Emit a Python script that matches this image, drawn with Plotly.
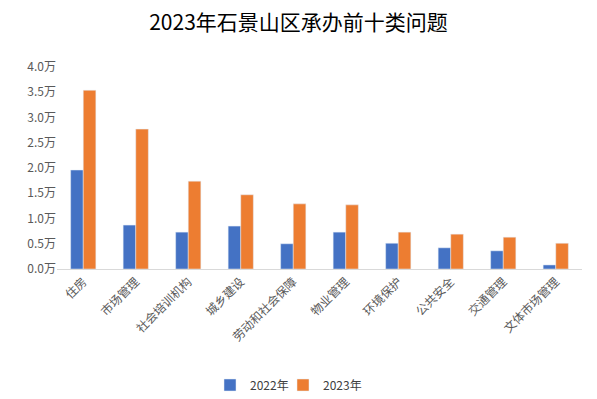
import plotly.graph_objects as go

categories = ["住房", "市场管理", "社会培训机构", "城乡建设", "劳动和社会保障",
              "物业管理", "环境保护", "公共安全", "交通管理", "文体市场管理"]
values_2022 = [1.96, 0.87, 0.73, 0.85, 0.50, 0.73, 0.51, 0.42, 0.36, 0.08]
values_2023 = [3.54, 2.77, 1.74, 1.47, 1.29, 1.27, 0.73, 0.69, 0.63, 0.51]
y_ticks = [0, 0.5, 1.0, 1.5, 2.0, 2.5, 3.0, 3.5, 4.0]
y_tick_text = [f"{v:.1f}万" for v in y_ticks]

font_family = "Noto Sans CJK SC, Liberation Sans, sans-serif"

fig = go.Figure()
fig.add_trace(go.Bar(name="2022年", x=categories, y=values_2022, marker_color="#4472C4",
                     legend="legend"))
fig.add_trace(go.Bar(name="2023年", x=categories, y=values_2023, marker_color="#ED7D31",
                     legend="legend2"))

W, H = 597, 399
leg_y = 1 - 385 / H
leg_common = dict(orientation="h", yref="container", xref="container", y=leg_y,
                  yanchor="middle", xanchor="left", bgcolor="rgba(0,0,0,0)",
                  font=dict(size=12, color="#404040"), itemwidth=30)

fig.update_layout(
    width=W, height=H,
    margin=dict(l=57, r=15, t=67, b=130),
    paper_bgcolor="white", plot_bgcolor="white",
    barmode="group", bargap=0.52, bargroupgap=0,
    title=dict(text="2023年石景山区承办前十类问题", x=0.5, xanchor="center",
               yref="container", y=1 - 15 / H, yanchor="top",
               font=dict(family=font_family, size=21, color="#000000")),
    font=dict(family=font_family, color="#595959", size=12),
    legend=dict(x=210 / W, **leg_common),
    legend2=dict(x=283 / W, **leg_common),
    showlegend=True,
)
fig.update_xaxes(showline=True, linecolor="#D9D9D9", linewidth=1, tickangle=-45,
                 ticks="", showgrid=False, automargin=False,
                 tickfont=dict(size=12, color="#595959"))
fig.update_yaxes(range=[0, 4], tickvals=y_ticks, ticktext=y_tick_text, showgrid=False,
                 zeroline=False, showline=False, ticks="", automargin=False,
                 tickfont=dict(size=12, color="#595959"))

fig.write_html("out.html", config={"displayModeBar": False},
               post_script="document.body.style.margin='0';document.body.style.overflow='hidden';")
